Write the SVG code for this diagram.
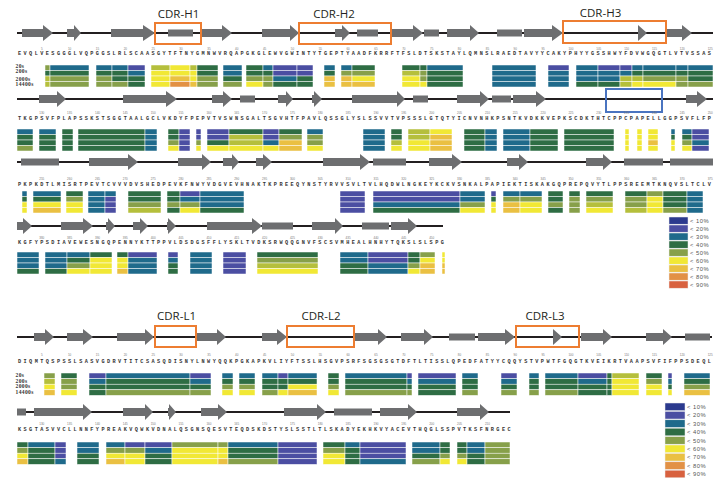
<svg xmlns="http://www.w3.org/2000/svg" width="719" height="492" viewBox="0 0 719 492">
<style>
.ln{stroke:#231f20;stroke-width:2.2}
.ss{fill:#6d6e70}
.cdr{fill:none;stroke:#ed7d31;stroke-width:2}
.cl{font-family:"Open Sans",sans-serif;font-size:11.5px;fill:#231f20;text-anchor:middle}
.seq{font-family:"Liberation Mono",monospace;font-size:5.2px;font-weight:bold;letter-spacing:2.45px;fill:#333}
.num{font-family:"Liberation Sans",sans-serif;font-size:3px;fill:#777;text-anchor:middle}
.lab{font-family:"Liberation Serif",serif;font-size:5.5px;font-weight:bold;letter-spacing:.4px;fill:#333}
.hm rect{stroke:#fff;stroke-width:.5}
.lg rect{stroke:#eee;stroke-width:.5}
.lt{font-family:"Liberation Sans",sans-serif;font-size:5.8px;fill:#555;letter-spacing:.5px}
.N{fill:#2b3a8e}.I{fill:#4b4ea2}.T{fill:#1f6a8b}.G{fill:#2e6d44}.O{fill:#87a04a}.L{fill:#b5bf3c}.Y{fill:#f1e835}.D{fill:#eac042}.R{fill:#e29145}.S{fill:#d8613f}
</style>

<!-- ================= HEAVY CHAIN ================= -->
<g id="heavy-chain">
<g id="h-structure">
<g transform="translate(0,33)">
<line class="ln" x1="17" y1="0" x2="713" y2="0"/>
<polygon class="ss" points="22,-4 43,-4 43,-8 53,0 43,8 43,4 22,4"/>
<polygon class="ss" points="67,-4 74,-4 74,-8 81,0 74,8 74,4 67,4"/>
<polygon class="ss" points="111,-4 143,-4 143,-8 155,0 143,8 143,4 111,4"/>
<rect class="ss" x="168" y="-3.5" width="25" height="7"/>
<polygon class="ss" points="202,-4 222,-4 222,-8 232,0 222,8 222,4 202,4"/>
<polygon class="ss" points="262,-4 290,-4 290,-8 299,0 290,8 290,4 262,4"/>
<polygon class="ss" points="335,-4 342,-4 342,-8 350,0 342,8 342,4 335,4"/>
<rect class="ss" x="357" y="-3.5" width="21" height="7"/>
<polygon class="ss" points="392,-4 413,-4 413,-8 423,0 413,8 413,4 392,4"/>
<rect class="ss" x="424" y="-3.5" width="15" height="7"/>
<polygon class="ss" points="447,-4 470,-4 470,-8 479,0 470,8 470,4 447,4"/>
<rect class="ss" x="497" y="-3.5" width="25" height="7"/>
<polygon class="ss" points="524,-4 552,-4 552,-8 563,0 552,8 552,4 524,4"/>
<polygon class="ss" points="638,-8 647,0 638,8"/>
<polygon class="ss" points="667,-4 682,-4 682,-8 692,0 682,8 682,4 667,4"/>
</g>
<g transform="translate(0,99)">
<line class="ln" x1="17" y1="0" x2="713" y2="0"/>
<polygon class="ss" points="39,-4 57,-4 57,-8 66,0 57,8 57,4 39,4"/>
<polygon class="ss" points="123,-4 166,-4 166,-8 177,0 166,8 166,4 123,4"/>
<polygon class="ss" points="212,-4 223,-4 223,-8 232,0 223,8 223,4 212,4"/>
<rect class="ss" x="240" y="-3.5" width="15" height="7"/>
<polygon class="ss" points="278,-4 286,-4 286,-8 293,0 286,8 286,4 278,4"/>
<polygon class="ss" points="312,-4 314,-4 314,-8 322,0 314,8 314,4 312,4"/>
<polygon class="ss" points="352,-4 397,-4 397,-8 405,0 397,8 397,4 352,4"/>
<rect class="ss" x="413" y="-3.5" width="15" height="7"/>
<polygon class="ss" points="457,-4 480,-4 480,-8 489,0 480,8 480,4 457,4"/>
<rect class="ss" x="492" y="-3.5" width="19" height="7"/>
<polygon class="ss" points="513,-4 536,-4 536,-8 546,0 536,8 536,4 513,4"/>
<polygon class="ss" points="686,-4 697,-4 697,-8 707,0 697,8 697,4 686,4"/>
</g>
<g transform="translate(0,162)">
<line class="ln" x1="17" y1="0" x2="713" y2="0"/>
<rect class="ss" x="21" y="-3.5" width="38" height="7"/>
<polygon class="ss" points="89,-4 128,-4 128,-8 138,0 128,8 128,4 89,4"/>
<polygon class="ss" points="178,-4 202,-4 202,-8 211,0 202,8 202,4 178,4"/>
<polygon class="ss" points="223,-4 232,-4 232,-8 239,0 232,8 232,4 223,4"/>
<polygon class="ss" points="256,-4 263,-4 263,-8 272,0 263,8 263,4 256,4"/>
<polygon class="ss" points="323,-4 360,-4 360,-8 370,0 360,8 360,4 323,4"/>
<rect class="ss" x="373" y="-3.5" width="33" height="7"/>
<polygon class="ss" points="429,-4 452,-4 452,-8 462,0 452,8 452,4 429,4"/>
<polygon class="ss" points="507,-4 519,-4 519,-8 528,0 519,8 519,4 507,4"/>
<polygon class="ss" points="586,-4 603,-4 603,-8 612,0 603,8 603,4 586,4"/>
<rect class="ss" x="624" y="-3.5" width="39" height="7"/>
<rect class="ss" x="670" y="-3.5" width="43" height="7"/>
</g>
<g transform="translate(0,226)">
<line class="ln" x1="17" y1="0" x2="443" y2="0"/>
<polygon class="ss" points="17,-4 23,-4 23,-8 32,0 23,8 23,4 17,4"/>
<polygon class="ss" points="61,-4 83,-4 83,-8 93,0 83,8 83,4 61,4"/>
<polygon class="ss" points="106,-4 108,-4 108,-8 115,0 108,8 108,4 106,4"/>
<polygon class="ss" points="133,-4 140,-4 140,-8 148,0 140,8 140,4 133,4"/>
<polygon class="ss" points="167,-4 168,-4 168,-8 176,0 168,8 168,4 167,4"/>
<polygon class="ss" points="207,-4 252,-4 252,-8 262,0 252,8 252,4 207,4"/>
<rect class="ss" x="262" y="-3.5" width="31" height="7"/>
<polygon class="ss" points="312,-4 335,-4 335,-8 343,0 335,8 335,4 312,4"/>
<rect class="ss" x="362" y="-3.5" width="27" height="7"/>
<polygon class="ss" points="391,-4 408,-4 408,-8 417,0 408,8 408,4 391,4"/>
</g>
</g>

<g id="h-cdr">
<rect class="cdr" x="155" y="23" width="46" height="21"/>
<rect class="cdr" x="299" y="23" width="92" height="21"/>
<rect class="cdr" x="563" y="21" width="103" height="22"/>
<rect x="606" y="89" width="56" height="23" fill="none" stroke="#4a74c0" stroke-width="2"/>
<text class="cl" x="178.5" y="17.5">CDR-H1</text>
<text class="cl" x="334" y="17.5">CDR-H2</text>
<text class="cl" x="600.5" y="17">CDR-H3</text>
</g>

<g id="h-seq">
<text class="num" y="49.5"><tspan x="41.8">5</tspan><tspan x="69.6">10</tspan><tspan x="97.5">15</tspan><tspan x="125.3">20</tspan><tspan x="153.2">25</tspan><tspan x="181">30</tspan><tspan x="208.9">35</tspan><tspan x="236.7">40</tspan><tspan x="264.6">45</tspan><tspan x="292.4">50</tspan><tspan x="320.3">55</tspan><tspan x="348.1">60</tspan><tspan x="376">65</tspan><tspan x="403.8">70</tspan><tspan x="431.7">75</tspan><tspan x="459.5">80</tspan><tspan x="487.4">85</tspan><tspan x="515.2">90</tspan><tspan x="543.1">95</tspan><tspan x="570.9">100</tspan><tspan x="598.8">105</tspan><tspan x="626.6">110</tspan><tspan x="654.5">115</tspan><tspan x="682.3">120</tspan><tspan x="710.2">125</tspan></text>
<text class="seq" x="17.94" y="55">EVQLVESGGGLVQPGGSLRLSCAASGYTFTNYGMNWVRQAPGKGLEWVGWINTYTGEPTYAADFKRRFTFSLDTSKSTAYLQMNSLRAEDTAVYYCAKYPHYYGSSHWYFDVWGQGTLVTVSSAS</text>
<text class="num" y="113.5"><tspan x="41.8">130</tspan><tspan x="69.6">135</tspan><tspan x="97.5">140</tspan><tspan x="125.3">145</tspan><tspan x="153.2">150</tspan><tspan x="181">155</tspan><tspan x="208.9">160</tspan><tspan x="236.7">165</tspan><tspan x="264.6">170</tspan><tspan x="292.4">175</tspan><tspan x="320.3">180</tspan><tspan x="348.1">185</tspan><tspan x="376">190</tspan><tspan x="403.8">195</tspan><tspan x="431.7">200</tspan><tspan x="459.5">205</tspan><tspan x="487.4">210</tspan><tspan x="515.2">215</tspan><tspan x="543.1">220</tspan><tspan x="570.9">225</tspan><tspan x="598.8">230</tspan><tspan x="626.6">235</tspan><tspan x="654.5">240</tspan><tspan x="682.3">245</tspan><tspan x="710.2">250</tspan></text>
<text class="seq" x="17.94" y="120">TKGPSVFPLAPSSKSTSGGTAALGCLVKDYFPEPVTVSWNSGALTSGVHTFPAVLQSSGLYSLSSVVTVPSSSLGTQTYICNVNHKPSNTKVDKKVEPKSCDKTHTCPPCPAPELLGGPSVFLFP</text>
<text class="num" y="180"><tspan x="41.8">255</tspan><tspan x="69.6">260</tspan><tspan x="97.5">265</tspan><tspan x="125.3">270</tspan><tspan x="153.2">275</tspan><tspan x="181">280</tspan><tspan x="208.9">285</tspan><tspan x="236.7">290</tspan><tspan x="264.6">295</tspan><tspan x="292.4">300</tspan><tspan x="320.3">305</tspan><tspan x="348.1">310</tspan><tspan x="376">315</tspan><tspan x="403.8">320</tspan><tspan x="431.7">325</tspan><tspan x="459.5">330</tspan><tspan x="487.4">335</tspan><tspan x="515.2">340</tspan><tspan x="543.1">345</tspan><tspan x="570.9">350</tspan><tspan x="598.8">355</tspan><tspan x="626.6">360</tspan><tspan x="654.5">365</tspan><tspan x="682.3">370</tspan><tspan x="710.2">375</tspan></text>
<text class="seq" x="17.94" y="186">PKPKDTLMISRTPEVTCVVVDVSHEDPEVKFNWYVDGVEVHNAKTKPREEQYNSTYRVVSVLTVLHQDWLNGKEYKCKVSNKALPAPIEKTISKAKGQPREPQVYTLPPSREEMTKNQVSLTCLV</text>
<text class="num" y="238.5"><tspan x="41.8">380</tspan><tspan x="69.6">385</tspan><tspan x="97.5">390</tspan><tspan x="125.3">395</tspan><tspan x="153.2">400</tspan><tspan x="181">405</tspan><tspan x="208.9">410</tspan><tspan x="236.7">415</tspan><tspan x="264.6">420</tspan><tspan x="292.4">425</tspan><tspan x="320.3">430</tspan><tspan x="348.1">435</tspan><tspan x="376">440</tspan><tspan x="403.8">445</tspan><tspan x="431.7">450</tspan></text>
<text class="seq" x="17.94" y="244">KGFYPSDIAVEWESNGQPENNYKTTPPVLDSDGSFFLYSKLTVDKSRWQQGNVFSCSVMHEALHNHYTQKSLSLSPG</text>
</g>

<g id="h-labels">
<text class="lab" x="15.5" y="67.7">20s</text>
<text class="lab" x="15.5" y="73.3">200s</text>
<text class="lab" x="15.5" y="80.5">2000s</text>
<text class="lab" x="15.5" y="85.9">14400s</text>
</g>

<g id="h-heat-1" class="hm" transform="translate(0,65)">
<rect class="O" x="45" width="5" height="5.5"/><rect class="G" x="45" y="5.5" width="5" height="5.5"/><rect class="L" x="45" y="11" width="5" height="5.5"/><rect class="L" x="45" y="16.5" width="5" height="5.5"/>
<rect class="T" x="50" width="39" height="5.5"/><rect class="G" x="50" y="5.5" width="39" height="5.5"/><rect class="O" x="50" y="11" width="39" height="5.5"/><rect class="O" x="50" y="16.5" width="39" height="5.5"/>
<rect class="T" x="96" width="16" height="5.5"/><rect class="G" x="96" y="5.5" width="16" height="5.5"/><rect class="O" x="96" y="11" width="16" height="5.5"/><rect class="O" x="96" y="16.5" width="16" height="5.5"/>
<rect class="T" x="112" width="16" height="5.5"/><rect class="G" x="112" y="5.5" width="16" height="5.5"/><rect class="G" x="112" y="11" width="16" height="5.5"/><rect class="O" x="112" y="16.5" width="16" height="5.5"/>
<rect class="I" x="128" width="17" height="5.5"/><rect class="T" x="128" y="5.5" width="17" height="5.5"/><rect class="G" x="128" y="11" width="17" height="5.5"/><rect class="G" x="128" y="16.5" width="17" height="5.5"/>
<rect class="L" x="151" width="19" height="5.5"/><rect class="Y" x="151" y="5.5" width="19" height="5.5"/><rect class="Y" x="151" y="11" width="19" height="5.5"/><rect class="Y" x="151" y="16.5" width="19" height="5.5"/>
<rect class="Y" x="170" width="20" height="5.5"/><rect class="Y" x="170" y="5.5" width="20" height="5.5"/><rect class="D" x="170" y="11" width="20" height="5.5"/><rect class="R" x="170" y="16.5" width="20" height="5.5"/>
<rect class="L" x="190" width="7" height="5.5"/><rect class="Y" x="190" y="5.5" width="7" height="5.5"/><rect class="Y" x="190" y="11" width="7" height="5.5"/><rect class="D" x="190" y="16.5" width="7" height="5.5"/>
<rect class="G" x="197" width="21" height="5.5"/><rect class="G" x="197" y="5.5" width="21" height="5.5"/><rect class="O" x="197" y="11" width="21" height="5.5"/><rect class="O" x="197" y="16.5" width="21" height="5.5"/>
<rect class="T" x="223" width="19" height="5.5"/><rect class="T" x="223" y="5.5" width="19" height="5.5"/><rect class="G" x="223" y="11" width="19" height="5.5"/><rect class="O" x="223" y="16.5" width="19" height="5.5"/>
<rect class="G" x="246" width="17" height="5.5"/><rect class="G" x="246" y="5.5" width="17" height="5.5"/><rect class="O" x="246" y="11" width="17" height="5.5"/><rect class="Y" x="246" y="16.5" width="17" height="5.5"/>
<rect class="T" x="263" width="10" height="5.5"/><rect class="G" x="263" y="5.5" width="10" height="5.5"/><rect class="O" x="263" y="11" width="10" height="5.5"/><rect class="O" x="263" y="16.5" width="10" height="5.5"/>
<rect class="I" x="273" width="24" height="5.5"/><rect class="I" x="273" y="5.5" width="24" height="5.5"/><rect class="T" x="273" y="11" width="24" height="5.5"/><rect class="G" x="273" y="16.5" width="24" height="5.5"/>
<rect class="I" x="297" width="16" height="5.5"/><rect class="I" x="297" y="5.5" width="16" height="5.5"/><rect class="G" x="297" y="11" width="16" height="5.5"/><rect class="G" x="297" y="16.5" width="16" height="5.5"/>
<rect class="T" x="324" width="11" height="5.5"/><rect class="G" x="324" y="5.5" width="11" height="5.5"/><rect class="D" x="324" y="11" width="11" height="5.5"/><rect class="D" x="324" y="16.5" width="11" height="5.5"/>
<rect class="T" x="341" width="11" height="5.5"/><rect class="O" x="341" y="5.5" width="11" height="5.5"/><rect class="D" x="341" y="11" width="11" height="5.5"/><rect class="D" x="341" y="16.5" width="11" height="5.5"/>
<rect class="G" x="352" width="23" height="5.5"/><rect class="O" x="352" y="5.5" width="23" height="5.5"/><rect class="Y" x="352" y="11" width="23" height="5.5"/><rect class="D" x="352" y="16.5" width="23" height="5.5"/>
<rect class="G" x="402" width="18" height="5.5"/><rect class="L" x="402" y="5.5" width="18" height="5.5"/><rect class="Y" x="402" y="11" width="18" height="5.5"/><rect class="Y" x="402" y="16.5" width="18" height="5.5"/>
<rect class="G" x="420" width="7" height="5.5"/><rect class="O" x="420" y="5.5" width="7" height="5.5"/><rect class="O" x="420" y="11" width="7" height="5.5"/><rect class="Y" x="420" y="16.5" width="7" height="5.5"/>
<rect class="T" x="427" width="36" height="5.5"/><rect class="G" x="427" y="5.5" width="36" height="5.5"/><rect class="G" x="427" y="11" width="36" height="5.5"/><rect class="G" x="427" y="16.5" width="36" height="5.5"/>
<rect class="T" x="492" width="44" height="5.5"/><rect class="T" x="492" y="5.5" width="44" height="5.5"/><rect class="T" x="492" y="11" width="44" height="5.5"/><rect class="T" x="492" y="16.5" width="44" height="5.5"/>
<rect class="I" x="548" width="21" height="5.5"/><rect class="T" x="548" y="5.5" width="21" height="5.5"/><rect class="T" x="548" y="11" width="21" height="5.5"/><rect class="T" x="548" y="16.5" width="21" height="5.5"/>
<rect class="T" x="576" width="22" height="5.5"/><rect class="T" x="576" y="5.5" width="22" height="5.5"/><rect class="T" x="576" y="11" width="22" height="5.5"/><rect class="G" x="576" y="16.5" width="22" height="5.5"/>
<rect class="I" x="598" width="22" height="5.5"/><rect class="T" x="598" y="5.5" width="22" height="5.5"/><rect class="T" x="598" y="11" width="22" height="5.5"/><rect class="G" x="598" y="16.5" width="22" height="5.5"/>
<rect class="I" x="620" width="12" height="5.5"/><rect class="T" x="620" y="5.5" width="12" height="5.5"/><rect class="L" x="620" y="11" width="12" height="5.5"/><rect class="L" x="620" y="16.5" width="12" height="5.5"/>
<rect class="T" x="632" width="11" height="5.5"/><rect class="G" x="632" y="5.5" width="11" height="5.5"/><rect class="L" x="632" y="11" width="11" height="5.5"/><rect class="Y" x="632" y="16.5" width="11" height="5.5"/>
<rect class="T" x="643" width="33" height="5.5"/><rect class="G" x="643" y="5.5" width="33" height="5.5"/><rect class="O" x="643" y="11" width="33" height="5.5"/><rect class="Y" x="643" y="16.5" width="33" height="5.5"/>
<rect class="T" x="676" width="12" height="5.5"/><rect class="G" x="676" y="5.5" width="12" height="5.5"/><rect class="O" x="676" y="11" width="12" height="5.5"/><rect class="O" x="676" y="16.5" width="12" height="5.5"/>
<rect class="T" x="688" width="25" height="5.5"/><rect class="G" x="688" y="5.5" width="25" height="5.5"/><rect class="G" x="688" y="11" width="25" height="5.5"/><rect class="O" x="688" y="16.5" width="25" height="5.5"/>
</g>

<g id="h-heat-2" class="hm" transform="translate(0,129)">
<rect class="T" x="17" width="16" height="5.5"/><rect class="G" x="17" y="5.5" width="16" height="5.5"/><rect class="G" x="17" y="11" width="16" height="5.5"/><rect class="O" x="17" y="16.5" width="16" height="5.5"/>
<rect class="T" x="39" width="17" height="5.5"/><rect class="G" x="39" y="5.5" width="17" height="5.5"/><rect class="G" x="39" y="11" width="17" height="5.5"/><rect class="G" x="39" y="16.5" width="17" height="5.5"/>
<rect class="G" x="62" width="11" height="5.5"/><rect class="G" x="62" y="5.5" width="11" height="5.5"/><rect class="G" x="62" y="11" width="11" height="5.5"/><rect class="G" x="62" y="16.5" width="11" height="5.5"/>
<rect class="G" x="78" width="67" height="5.5"/><rect class="G" x="78" y="5.5" width="67" height="5.5"/><rect class="G" x="78" y="11" width="67" height="5.5"/><rect class="G" x="78" y="16.5" width="67" height="5.5"/>
<rect class="T" x="145" width="12" height="5.5"/><rect class="T" x="145" y="5.5" width="12" height="5.5"/><rect class="T" x="145" y="11" width="12" height="5.5"/><rect class="T" x="145" y="16.5" width="12" height="5.5"/>
<rect class="G" x="168" width="11" height="5.5"/><rect class="G" x="168" y="5.5" width="11" height="5.5"/><rect class="O" x="168" y="11" width="11" height="5.5"/><rect class="Y" x="168" y="16.5" width="11" height="5.5"/>
<rect class="I" x="179" width="11" height="5.5"/><rect class="I" x="179" y="5.5" width="11" height="5.5"/><rect class="I" x="179" y="11" width="11" height="5.5"/><rect class="I" x="179" y="16.5" width="11" height="5.5"/>
<rect class="I" x="196" width="5" height="5.5"/><rect class="I" x="196" y="5.5" width="5" height="5.5"/><rect class="O" x="196" y="11" width="5" height="5.5"/><rect class="Y" x="196" y="16.5" width="5" height="5.5"/>
<rect class="I" x="207" width="22" height="5.5"/><rect class="I" x="207" y="5.5" width="22" height="5.5"/><rect class="G" x="207" y="11" width="22" height="5.5"/><rect class="Y" x="207" y="16.5" width="22" height="5.5"/>
<rect class="G" x="229" width="34" height="5.5"/><rect class="L" x="229" y="5.5" width="34" height="5.5"/><rect class="L" x="229" y="11" width="34" height="5.5"/><rect class="Y" x="229" y="16.5" width="34" height="5.5"/>
<rect class="I" x="263" width="16" height="5.5"/><rect class="I" x="263" y="5.5" width="16" height="5.5"/><rect class="T" x="263" y="11" width="16" height="5.5"/><rect class="Y" x="263" y="16.5" width="16" height="5.5"/>
<rect class="G" x="279" width="23" height="5.5"/><rect class="O" x="279" y="5.5" width="23" height="5.5"/><rect class="D" x="279" y="11" width="23" height="5.5"/><rect class="D" x="279" y="16.5" width="23" height="5.5"/>
<rect class="T" x="307" width="16" height="5.5"/><rect class="O" x="307" y="5.5" width="16" height="5.5"/><rect class="O" x="307" y="11" width="16" height="5.5"/><rect class="Y" x="307" y="16.5" width="16" height="5.5"/>
<rect class="T" x="363" width="22" height="5.5"/><rect class="T" x="363" y="5.5" width="22" height="5.5"/><rect class="T" x="363" y="11" width="22" height="5.5"/><rect class="T" x="363" y="16.5" width="22" height="5.5"/>
<rect class="G" x="391" width="11" height="5.5"/><rect class="G" x="391" y="5.5" width="11" height="5.5"/><rect class="L" x="391" y="11" width="11" height="5.5"/><rect class="Y" x="391" y="16.5" width="11" height="5.5"/>
<rect class="L" x="408" width="22" height="5.5"/><rect class="L" x="408" y="5.5" width="22" height="5.5"/><rect class="Y" x="408" y="11" width="22" height="5.5"/><rect class="Y" x="408" y="16.5" width="22" height="5.5"/>
<rect class="Y" x="430" width="22" height="5.5"/><rect class="D" x="430" y="5.5" width="22" height="5.5"/><rect class="D" x="430" y="11" width="22" height="5.5"/><rect class="D" x="430" y="16.5" width="22" height="5.5"/>
<rect class="G" x="464" width="21" height="5.5"/><rect class="G" x="464" y="5.5" width="21" height="5.5"/><rect class="G" x="464" y="11" width="21" height="5.5"/><rect class="G" x="464" y="16.5" width="21" height="5.5"/>
<rect class="T" x="485" width="12" height="5.5"/><rect class="T" x="485" y="5.5" width="12" height="5.5"/><rect class="T" x="485" y="11" width="12" height="5.5"/><rect class="T" x="485" y="16.5" width="12" height="5.5"/>
<rect class="T" x="503" width="27" height="5.5"/><rect class="T" x="503" y="5.5" width="27" height="5.5"/><rect class="T" x="503" y="11" width="27" height="5.5"/><rect class="T" x="503" y="16.5" width="27" height="5.5"/>
<rect class="G" x="530" width="28" height="5.5"/><rect class="G" x="530" y="5.5" width="28" height="5.5"/><rect class="G" x="530" y="11" width="28" height="5.5"/><rect class="G" x="530" y="16.5" width="28" height="5.5"/>
<rect class="G" x="564" width="50" height="5.5"/><rect class="G" x="564" y="5.5" width="50" height="5.5"/><rect class="G" x="564" y="11" width="50" height="5.5"/><rect class="G" x="564" y="16.5" width="50" height="5.5"/>
<rect class="Y" x="625" width="4" height="5.5"/><rect class="Y" x="625" y="5.5" width="4" height="5.5"/><rect class="Y" x="625" y="11" width="4" height="5.5"/><rect class="Y" x="625" y="16.5" width="4" height="5.5"/>
<rect class="Y" x="637" width="5" height="5.5"/><rect class="Y" x="637" y="5.5" width="5" height="5.5"/><rect class="Y" x="637" y="11" width="5" height="5.5"/><rect class="Y" x="637" y="16.5" width="5" height="5.5"/>
<rect class="Y" x="648" width="10" height="5.5"/><rect class="Y" x="648" y="5.5" width="10" height="5.5"/><rect class="D" x="648" y="11" width="10" height="5.5"/><rect class="Y" x="648" y="16.5" width="10" height="5.5"/>
<rect class="T" x="671" width="4" height="5.5"/><rect class="G" x="671" y="5.5" width="4" height="5.5"/><rect class="Y" x="671" y="11" width="4" height="5.5"/><rect class="Y" x="671" y="16.5" width="4" height="5.5"/>
<rect class="T" x="682" width="10" height="5.5"/><rect class="G" x="682" y="5.5" width="10" height="5.5"/><rect class="O" x="682" y="11" width="10" height="5.5"/><rect class="Y" x="682" y="16.5" width="10" height="5.5"/>
<rect class="I" x="692" width="17" height="5.5"/><rect class="I" x="692" y="5.5" width="17" height="5.5"/><rect class="T" x="692" y="11" width="17" height="5.5"/><rect class="I" x="692" y="16.5" width="17" height="5.5"/>
</g>

<g id="h-heat-3" class="hm" transform="translate(0,191)">
<rect class="T" x="22" width="5" height="5.5"/><rect class="G" x="22" y="5.5" width="5" height="5.5"/><rect class="Y" x="22" y="11" width="5" height="5.5"/><rect class="Y" x="22" y="16.5" width="5" height="5.5"/>
<rect class="T" x="33" width="28" height="5.5"/><rect class="G" x="33" y="5.5" width="28" height="5.5"/><rect class="Y" x="33" y="11" width="28" height="5.5"/><rect class="D" x="33" y="16.5" width="28" height="5.5"/>
<rect class="G" x="66" width="17" height="5.5"/><rect class="O" x="66" y="5.5" width="17" height="5.5"/><rect class="Y" x="66" y="11" width="17" height="5.5"/><rect class="Y" x="66" y="16.5" width="17" height="5.5"/>
<rect class="T" x="88" width="17" height="5.5"/><rect class="T" x="88" y="5.5" width="17" height="5.5"/><rect class="T" x="88" y="11" width="17" height="5.5"/><rect class="T" x="88" y="16.5" width="17" height="5.5"/>
<rect class="T" x="105" width="11" height="5.5"/><rect class="I" x="105" y="5.5" width="11" height="5.5"/><rect class="I" x="105" y="11" width="11" height="5.5"/><rect class="I" x="105" y="16.5" width="11" height="5.5"/>
<rect class="G" x="128" width="33" height="5.5"/><rect class="G" x="128" y="5.5" width="33" height="5.5"/><rect class="O" x="128" y="11" width="33" height="5.5"/><rect class="L" x="128" y="16.5" width="33" height="5.5"/>
<rect class="G" x="167" width="13" height="5.5"/><rect class="G" x="167" y="5.5" width="13" height="5.5"/><rect class="O" x="167" y="11" width="13" height="5.5"/><rect class="G" x="167" y="16.5" width="13" height="5.5"/>
<rect class="I" x="180" width="20" height="5.5"/><rect class="T" x="180" y="5.5" width="20" height="5.5"/><rect class="O" x="180" y="11" width="20" height="5.5"/><rect class="Y" x="180" y="16.5" width="20" height="5.5"/>
<rect class="T" x="200" width="44" height="5.5"/><rect class="T" x="200" y="5.5" width="44" height="5.5"/><rect class="T" x="200" y="11" width="44" height="5.5"/><rect class="G" x="200" y="16.5" width="44" height="5.5"/>
<rect class="I" x="340" width="25" height="5.5"/><rect class="I" x="340" y="5.5" width="25" height="5.5"/><rect class="I" x="340" y="11" width="25" height="5.5"/><rect class="I" x="340" y="16.5" width="25" height="5.5"/>
<rect class="I" x="373" width="87" height="5.5"/><rect class="I" x="373" y="5.5" width="87" height="5.5"/><rect class="T" x="373" y="11" width="87" height="5.5"/><rect class="G" x="373" y="16.5" width="87" height="5.5"/>
<rect class="T" x="460" width="25" height="5.5"/><rect class="T" x="460" y="5.5" width="25" height="5.5"/><rect class="O" x="460" y="11" width="25" height="5.5"/><rect class="Y" x="460" y="16.5" width="25" height="5.5"/>
<rect class="I" x="491" width="5" height="5.5"/><rect class="G" x="491" y="5.5" width="5" height="5.5"/><rect class="Y" x="491" y="11" width="5" height="5.5"/><rect class="Y" x="491" y="16.5" width="5" height="5.5"/>
<rect class="T" x="503" width="17" height="5.5"/><rect class="O" x="503" y="5.5" width="17" height="5.5"/><rect class="D" x="503" y="11" width="17" height="5.5"/><rect class="D" x="503" y="16.5" width="17" height="5.5"/>
<rect class="T" x="520" width="22" height="5.5"/><rect class="O" x="520" y="5.5" width="22" height="5.5"/><rect class="Y" x="520" y="11" width="22" height="5.5"/><rect class="Y" x="520" y="16.5" width="22" height="5.5"/>
<rect class="G" x="548" width="15" height="5.5"/><rect class="G" x="548" y="5.5" width="15" height="5.5"/><rect class="O" x="548" y="11" width="15" height="5.5"/><rect class="G" x="548" y="16.5" width="15" height="5.5"/>
<rect class="G" x="569" width="11" height="5.5"/><rect class="O" x="569" y="5.5" width="11" height="5.5"/><rect class="O" x="569" y="11" width="11" height="5.5"/><rect class="O" x="569" y="16.5" width="11" height="5.5"/>
<rect class="G" x="586" width="27" height="5.5"/><rect class="O" x="586" y="5.5" width="27" height="5.5"/><rect class="L" x="586" y="11" width="27" height="5.5"/><rect class="Y" x="586" y="16.5" width="27" height="5.5"/>
<rect class="G" x="625" width="22" height="5.5"/><rect class="O" x="625" y="5.5" width="22" height="5.5"/><rect class="O" x="625" y="11" width="22" height="5.5"/><rect class="L" x="625" y="16.5" width="22" height="5.5"/>
<rect class="O" x="647" width="16" height="5.5"/><rect class="Y" x="647" y="5.5" width="16" height="5.5"/><rect class="Y" x="647" y="11" width="16" height="5.5"/><rect class="Y" x="647" y="16.5" width="16" height="5.5"/>
<rect class="G" x="663" width="24" height="5.5"/><rect class="G" x="663" y="5.5" width="24" height="5.5"/><rect class="G" x="663" y="11" width="24" height="5.5"/><rect class="O" x="663" y="16.5" width="24" height="5.5"/>
<rect class="T" x="687" width="16" height="5.5"/><rect class="T" x="687" y="5.5" width="16" height="5.5"/><rect class="T" x="687" y="11" width="16" height="5.5"/><rect class="T" x="687" y="16.5" width="16" height="5.5"/>
</g>

<g id="h-heat-4" class="hm" transform="translate(0,252)">
<rect class="T" x="17" width="22" height="5.5"/><rect class="T" x="17" y="5.5" width="22" height="5.5"/><rect class="T" x="17" y="11" width="22" height="5.5"/><rect class="G" x="17" y="16.5" width="22" height="5.5"/>
<rect class="T" x="45" width="22" height="5.5"/><rect class="T" x="45" y="5.5" width="22" height="5.5"/><rect class="T" x="45" y="11" width="22" height="5.5"/><rect class="G" x="45" y="16.5" width="22" height="5.5"/>
<rect class="T" x="67" width="23" height="5.5"/><rect class="G" x="67" y="5.5" width="23" height="5.5"/><rect class="O" x="67" y="11" width="23" height="5.5"/><rect class="Y" x="67" y="16.5" width="23" height="5.5"/>
<rect class="G" x="90" width="22" height="5.5"/><rect class="Y" x="90" y="5.5" width="22" height="5.5"/><rect class="Y" x="90" y="11" width="22" height="5.5"/><rect class="Y" x="90" y="16.5" width="22" height="5.5"/>
<rect class="G" x="117" width="11" height="5.5"/><rect class="Y" x="117" y="5.5" width="11" height="5.5"/><rect class="Y" x="117" y="11" width="11" height="5.5"/><rect class="D" x="117" y="16.5" width="11" height="5.5"/>
<rect class="I" x="128" width="29" height="5.5"/><rect class="T" x="128" y="5.5" width="29" height="5.5"/><rect class="T" x="128" y="11" width="29" height="5.5"/><rect class="T" x="128" y="16.5" width="29" height="5.5"/>
<rect class="I" x="168" width="10" height="5.5"/><rect class="T" x="168" y="5.5" width="10" height="5.5"/><rect class="G" x="168" y="11" width="10" height="5.5"/><rect class="G" x="168" y="16.5" width="10" height="5.5"/>
<rect class="T" x="190" width="22" height="5.5"/><rect class="T" x="190" y="5.5" width="22" height="5.5"/><rect class="T" x="190" y="11" width="22" height="5.5"/><rect class="T" x="190" y="16.5" width="22" height="5.5"/>
<rect class="I" x="223" width="23" height="5.5"/><rect class="I" x="223" y="5.5" width="23" height="5.5"/><rect class="I" x="223" y="11" width="23" height="5.5"/><rect class="I" x="223" y="16.5" width="23" height="5.5"/>
<rect class="G" x="257" width="61" height="5.5"/><rect class="O" x="257" y="5.5" width="61" height="5.5"/><rect class="L" x="257" y="11" width="61" height="5.5"/><rect class="Y" x="257" y="16.5" width="61" height="5.5"/>
<rect class="T" x="340" width="28" height="5.5"/><rect class="T" x="340" y="5.5" width="28" height="5.5"/><rect class="G" x="340" y="11" width="28" height="5.5"/><rect class="G" x="340" y="16.5" width="28" height="5.5"/>
<rect class="I" x="368" width="40" height="5.5"/><rect class="I" x="368" y="5.5" width="40" height="5.5"/><rect class="T" x="368" y="11" width="40" height="5.5"/><rect class="T" x="368" y="16.5" width="40" height="5.5"/>
<rect class="G" x="408" width="12" height="5.5"/><rect class="G" x="408" y="5.5" width="12" height="5.5"/><rect class="O" x="408" y="11" width="12" height="5.5"/><rect class="Y" x="408" y="16.5" width="12" height="5.5"/>
<rect class="O" x="420" width="15" height="5.5"/><rect class="Y" x="420" y="5.5" width="15" height="5.5"/><rect class="D" x="420" y="11" width="15" height="5.5"/><rect class="D" x="420" y="16.5" width="15" height="5.5"/>
<rect class="Y" x="442" width="3" height="5.5"/><rect class="Y" x="442" y="5.5" width="3" height="5.5"/><rect class="D" x="442" y="11" width="3" height="5.5"/><rect class="D" x="442" y="16.5" width="3" height="5.5"/>
</g>
</g>

<!-- ================= LIGHT CHAIN ================= -->
<g id="light-chain">
<g id="l-structure">
<g transform="translate(0,337)">
<line class="ln" x1="17" y1="0" x2="712" y2="0"/>
<polygon class="ss" points="34,-4 45,-4 45,-8 54,0 45,8 45,4 34,4"/>
<polygon class="ss" points="67,-4 83,-4 83,-8 93,0 83,8 83,4 67,4"/>
<polygon class="ss" points="117,-4 145,-4 145,-8 154,0 145,8 145,4 117,4"/>
<polygon class="ss" points="197,-4 217,-4 217,-8 226,0 217,8 217,4 197,4"/>
<polygon class="ss" points="262,-4 277,-4 277,-8 287,0 277,8 277,4 262,4"/>
<polygon class="ss" points="355,-4 378,-4 378,-8 387,0 378,8 378,4 355,4"/>
<polygon class="ss" points="401,-4 424,-4 424,-8 433,0 424,8 424,4 401,4"/>
<rect class="ss" x="449" y="-3.5" width="26" height="7"/>
<polygon class="ss" points="478,-4 505,-4 505,-8 515,0 505,8 505,4 478,4"/>
<polygon class="ss" points="553,-8 562,0 553,8"/>
<polygon class="ss" points="581,-4 603,-4 603,-8 612,0 603,8 603,4 581,4"/>
<polygon class="ss" points="646,-4 663,-4 663,-8 672,0 663,8 663,4 646,4"/>
<rect class="ss" x="685" y="-3.5" width="25" height="7"/>
</g>
<g transform="translate(0,412)">
<line class="ln" x1="17" y1="0" x2="510" y2="0"/>
<rect class="ss" x="17" y="-3.5" width="9" height="7"/>
<polygon class="ss" points="34,-4 83,-4 83,-8 92,0 83,8 83,4 34,4"/>
<polygon class="ss" points="123,-4 145,-4 145,-8 153,0 145,8 145,4 123,4"/>
<polygon class="ss" points="168,-4 169,-4 169,-8 176,0 169,8 169,4 168,4"/>
<polygon class="ss" points="201,-4 218,-4 218,-8 227,0 218,8 218,4 201,4"/>
<polygon class="ss" points="284,-4 317,-4 317,-8 326,0 317,8 317,4 284,4"/>
<rect class="ss" x="334" y="-3.5" width="38" height="7"/>
<polygon class="ss" points="380,-4 408,-4 408,-8 417,0 408,8 408,4 380,4"/>
<polygon class="ss" points="457,-4 480,-4 480,-8 489,0 480,8 480,4 457,4"/>
</g>
</g>

<g id="l-cdr">
<rect class="cdr" x="155" y="326" width="41" height="21"/>
<rect class="cdr" x="287" y="326" width="67" height="21"/>
<rect class="cdr" x="516" y="326" width="63" height="21"/>
<text class="cl" x="176.5" y="320">CDR-L1</text>
<text class="cl" x="321" y="320">CDR-L2</text>
<text class="cl" x="545" y="320">CDR-L3</text>
</g>

<g id="l-seq">
<text class="num" y="356"><tspan x="41.8">5</tspan><tspan x="69.6">10</tspan><tspan x="97.5">15</tspan><tspan x="125.3">20</tspan><tspan x="153.2">25</tspan><tspan x="181">30</tspan><tspan x="208.9">35</tspan><tspan x="236.7">40</tspan><tspan x="264.6">45</tspan><tspan x="292.4">50</tspan><tspan x="320.3">55</tspan><tspan x="348.1">60</tspan><tspan x="376">65</tspan><tspan x="403.8">70</tspan><tspan x="431.7">75</tspan><tspan x="459.5">80</tspan><tspan x="487.4">85</tspan><tspan x="515.2">90</tspan><tspan x="543.1">95</tspan><tspan x="570.9">100</tspan><tspan x="598.8">105</tspan><tspan x="626.6">110</tspan><tspan x="654.5">115</tspan><tspan x="682.3">120</tspan><tspan x="710.2">125</tspan></text>
<text class="seq" x="17.94" y="362.5">DIQMTQSPSSLSASVGDRVTITCSASQDISNYLNWYQQKPGKAPKVLIYFTSSLHSGVPSRFSGSGSGTDFTLTISSLQPEDFATYYCQQYSTVPWTFGQGTKVEIKRTVAAPSVFIFPPSDEQL</text>
<text class="num" y="425"><tspan x="41.8">130</tspan><tspan x="69.6">135</tspan><tspan x="97.5">140</tspan><tspan x="125.3">145</tspan><tspan x="153.2">150</tspan><tspan x="181">155</tspan><tspan x="208.9">160</tspan><tspan x="236.7">165</tspan><tspan x="264.6">170</tspan><tspan x="292.4">175</tspan><tspan x="320.3">180</tspan><tspan x="348.1">185</tspan><tspan x="376">190</tspan><tspan x="403.8">195</tspan><tspan x="431.7">200</tspan><tspan x="459.5">205</tspan><tspan x="487.4">210</tspan></text>
<text class="seq" x="17.94" y="431">KSGTASVVCLLNNFYPREAKVQWKVDNALQSGNSQESVTEQDSKDSTYSLSSTLTLSKADYEKHKVYACEVTHQGLSSPVTKSFNRGEC</text>
</g>

<g id="l-labels">
<text class="lab" x="15.5" y="377.3">20s</text>
<text class="lab" x="15.5" y="382.5">200s</text>
<text class="lab" x="15.5" y="388">2000s</text>
<text class="lab" x="15.5" y="393.5">14400s</text>
</g>

<g id="l-heat-1" class="hm" transform="translate(0,373)">
<rect class="O" x="44" width="11" height="5.6"/><rect class="L" x="44" y="5.6" width="11" height="5.6"/><rect class="Y" x="44" y="11.2" width="11" height="5.6"/><rect class="D" x="44" y="16.8" width="11" height="5.6"/>
<rect class="G" x="61" width="16" height="5.6"/><rect class="O" x="61" y="5.6" width="16" height="5.6"/><rect class="O" x="61" y="11.2" width="16" height="5.6"/><rect class="Y" x="61" y="16.8" width="16" height="5.6"/>
<rect class="I" x="89" width="17" height="5.6"/><rect class="T" x="89" y="5.6" width="17" height="5.6"/><rect class="G" x="89" y="11.2" width="17" height="5.6"/><rect class="G" x="89" y="16.8" width="17" height="5.6"/>
<rect class="T" x="106" width="84" height="5.6"/><rect class="G" x="106" y="5.6" width="84" height="5.6"/><rect class="G" x="106" y="11.2" width="84" height="5.6"/><rect class="O" x="106" y="16.8" width="84" height="5.6"/>
<rect class="I" x="190" width="21" height="5.6"/><rect class="T" x="190" y="5.6" width="21" height="5.6"/><rect class="G" x="190" y="11.2" width="21" height="5.6"/><rect class="O" x="190" y="16.8" width="21" height="5.6"/>
<rect class="T" x="222" width="11" height="5.6"/><rect class="G" x="222" y="5.6" width="11" height="5.6"/><rect class="O" x="222" y="11.2" width="11" height="5.6"/><rect class="Y" x="222" y="16.8" width="11" height="5.6"/>
<rect class="T" x="239" width="16" height="5.6"/><rect class="G" x="239" y="5.6" width="16" height="5.6"/><rect class="O" x="239" y="11.2" width="16" height="5.6"/><rect class="Y" x="239" y="16.8" width="16" height="5.6"/>
<rect class="T" x="262" width="16" height="5.6"/><rect class="G" x="262" y="5.6" width="16" height="5.6"/><rect class="G" x="262" y="11.2" width="16" height="5.6"/><rect class="O" x="262" y="16.8" width="16" height="5.6"/>
<rect class="I" x="278" width="10" height="5.6"/><rect class="G" x="278" y="5.6" width="10" height="5.6"/><rect class="G" x="278" y="11.2" width="10" height="5.6"/><rect class="Y" x="278" y="16.8" width="10" height="5.6"/>
<rect class="T" x="288" width="29" height="5.6"/><rect class="G" x="288" y="5.6" width="29" height="5.6"/><rect class="Y" x="288" y="11.2" width="29" height="5.6"/><rect class="D" x="288" y="16.8" width="29" height="5.6"/>
<rect class="G" x="328" width="11" height="5.6"/><rect class="G" x="328" y="5.6" width="11" height="5.6"/><rect class="O" x="328" y="11.2" width="11" height="5.6"/><rect class="Y" x="328" y="16.8" width="11" height="5.6"/>
<rect class="T" x="345" width="62" height="5.6"/><rect class="G" x="345" y="5.6" width="62" height="5.6"/><rect class="G" x="345" y="11.2" width="62" height="5.6"/><rect class="O" x="345" y="16.8" width="62" height="5.6"/>
<rect class="I" x="407" width="5" height="5.6"/><rect class="T" x="407" y="5.6" width="5" height="5.6"/><rect class="G" x="407" y="11.2" width="5" height="5.6"/><rect class="O" x="407" y="16.8" width="5" height="5.6"/>
<rect class="I" x="418" width="38" height="5.6"/><rect class="T" x="418" y="5.6" width="38" height="5.6"/><rect class="G" x="418" y="11.2" width="38" height="5.6"/><rect class="G" x="418" y="16.8" width="38" height="5.6"/>
<rect class="T" x="462" width="16" height="5.6"/><rect class="G" x="462" y="5.6" width="16" height="5.6"/><rect class="G" x="462" y="11.2" width="16" height="5.6"/><rect class="O" x="462" y="16.8" width="16" height="5.6"/>
<rect class="I" x="501" width="16" height="5.6"/><rect class="T" x="501" y="5.6" width="16" height="5.6"/><rect class="G" x="501" y="11.2" width="16" height="5.6"/><rect class="O" x="501" y="16.8" width="16" height="5.6"/>
<rect class="T" x="529" width="10" height="5.6"/><rect class="G" x="529" y="5.6" width="10" height="5.6"/><rect class="G" x="529" y="11.2" width="10" height="5.6"/><rect class="O" x="529" y="16.8" width="10" height="5.6"/>
<rect class="T" x="545" width="33" height="5.6"/><rect class="G" x="545" y="5.6" width="33" height="5.6"/><rect class="G" x="545" y="11.2" width="33" height="5.6"/><rect class="O" x="545" y="16.8" width="33" height="5.6"/>
<rect class="I" x="578" width="29" height="5.6"/><rect class="T" x="578" y="5.6" width="29" height="5.6"/><rect class="G" x="578" y="11.2" width="29" height="5.6"/><rect class="G" x="578" y="16.8" width="29" height="5.6"/>
<rect class="G" x="607" width="5" height="5.6"/><rect class="G" x="607" y="5.6" width="5" height="5.6"/><rect class="G" x="607" y="11.2" width="5" height="5.6"/><rect class="G" x="607" y="16.8" width="5" height="5.6"/>
<rect class="L" x="612" width="27" height="5.6"/><rect class="Y" x="612" y="5.6" width="27" height="5.6"/><rect class="Y" x="612" y="11.2" width="27" height="5.6"/><rect class="Y" x="612" y="16.8" width="27" height="5.6"/>
<rect class="G" x="646" width="16" height="5.6"/><rect class="O" x="646" y="5.6" width="16" height="5.6"/><rect class="Y" x="646" y="11.2" width="16" height="5.6"/><rect class="Y" x="646" y="16.8" width="16" height="5.6"/>
<rect class="I" x="668" width="4" height="5.6"/><rect class="T" x="668" y="5.6" width="4" height="5.6"/><rect class="G" x="668" y="11.2" width="4" height="5.6"/><rect class="Y" x="668" y="16.8" width="4" height="5.6"/>
<rect class="T" x="684" width="26" height="5.6"/><rect class="G" x="684" y="5.6" width="26" height="5.6"/><rect class="O" x="684" y="11.2" width="26" height="5.6"/><rect class="D" x="684" y="16.8" width="26" height="5.6"/>
</g>

<g id="l-heat-2" class="hm" transform="translate(0,442)">
<rect class="G" x="17" width="11" height="5.6"/><rect class="O" x="17" y="5.6" width="11" height="5.6"/><rect class="Y" x="17" y="11.2" width="11" height="5.6"/><rect class="D" x="17" y="16.8" width="11" height="5.6"/>
<rect class="T" x="28" width="27" height="5.6"/><rect class="G" x="28" y="5.6" width="27" height="5.6"/><rect class="G" x="28" y="11.2" width="27" height="5.6"/><rect class="G" x="28" y="16.8" width="27" height="5.6"/>
<rect class="I" x="55" width="11" height="5.6"/><rect class="I" x="55" y="5.6" width="11" height="5.6"/><rect class="I" x="55" y="11.2" width="11" height="5.6"/><rect class="T" x="55" y="16.8" width="11" height="5.6"/>
<rect class="T" x="77" width="22" height="5.6"/><rect class="T" x="77" y="5.6" width="22" height="5.6"/><rect class="G" x="77" y="11.2" width="22" height="5.6"/><rect class="G" x="77" y="16.8" width="22" height="5.6"/>
<rect class="T" x="106" width="19" height="5.6"/><rect class="O" x="106" y="5.6" width="19" height="5.6"/><rect class="Y" x="106" y="11.2" width="19" height="5.6"/><rect class="D" x="106" y="16.8" width="19" height="5.6"/>
<rect class="I" x="125" width="20" height="5.6"/><rect class="O" x="125" y="5.6" width="20" height="5.6"/><rect class="Y" x="125" y="11.2" width="20" height="5.6"/><rect class="Y" x="125" y="16.8" width="20" height="5.6"/>
<rect class="I" x="145" width="27" height="5.6"/><rect class="T" x="145" y="5.6" width="27" height="5.6"/><rect class="G" x="145" y="11.2" width="27" height="5.6"/><rect class="G" x="145" y="16.8" width="27" height="5.6"/>
<rect class="O" x="172" width="46" height="5.6"/><rect class="Y" x="172" y="5.6" width="46" height="5.6"/><rect class="Y" x="172" y="11.2" width="46" height="5.6"/><rect class="Y" x="172" y="16.8" width="46" height="5.6"/>
<rect class="O" x="218" width="10" height="5.6"/><rect class="Y" x="218" y="5.6" width="10" height="5.6"/><rect class="Y" x="218" y="11.2" width="10" height="5.6"/><rect class="D" x="218" y="16.8" width="10" height="5.6"/>
<rect class="T" x="228" width="50" height="5.6"/><rect class="G" x="228" y="5.6" width="50" height="5.6"/><rect class="G" x="228" y="11.2" width="50" height="5.6"/><rect class="O" x="228" y="16.8" width="50" height="5.6"/>
<rect class="I" x="278" width="39" height="5.6"/><rect class="I" x="278" y="5.6" width="39" height="5.6"/><rect class="I" x="278" y="11.2" width="39" height="5.6"/><rect class="I" x="278" y="16.8" width="39" height="5.6"/>
<rect class="G" x="323" width="22" height="5.6"/><rect class="O" x="323" y="5.6" width="22" height="5.6"/><rect class="Y" x="323" y="11.2" width="22" height="5.6"/><rect class="Y" x="323" y="16.8" width="22" height="5.6"/>
<rect class="T" x="345" width="15" height="5.6"/><rect class="G" x="345" y="5.6" width="15" height="5.6"/><rect class="G" x="345" y="11.2" width="15" height="5.6"/><rect class="G" x="345" y="16.8" width="15" height="5.6"/>
<rect class="I" x="360" width="46" height="5.6"/><rect class="I" x="360" y="5.6" width="46" height="5.6"/><rect class="I" x="360" y="11.2" width="46" height="5.6"/><rect class="T" x="360" y="16.8" width="46" height="5.6"/>
<rect class="T" x="412" width="28" height="5.6"/><rect class="T" x="412" y="5.6" width="28" height="5.6"/><rect class="G" x="412" y="11.2" width="28" height="5.6"/><rect class="O" x="412" y="16.8" width="28" height="5.6"/>
<rect class="G" x="440" width="10" height="5.6"/><rect class="G" x="440" y="5.6" width="10" height="5.6"/><rect class="O" x="440" y="11.2" width="10" height="5.6"/><rect class="Y" x="440" y="16.8" width="10" height="5.6"/>
<rect class="G" x="457" width="10" height="5.6"/><rect class="G" x="457" y="5.6" width="10" height="5.6"/><rect class="O" x="457" y="11.2" width="10" height="5.6"/><rect class="Y" x="457" y="16.8" width="10" height="5.6"/>
<rect class="T" x="467" width="18" height="5.6"/><rect class="T" x="467" y="5.6" width="18" height="5.6"/><rect class="G" x="467" y="11.2" width="18" height="5.6"/><rect class="G" x="467" y="16.8" width="18" height="5.6"/>
<rect class="O" x="485" width="25" height="5.6"/><rect class="O" x="485" y="5.6" width="25" height="5.6"/><rect class="O" x="485" y="11.2" width="25" height="5.6"/><rect class="O" x="485" y="16.8" width="25" height="5.6"/>
</g>
</g>

<!-- ================= LEGENDS ================= -->
<g id="legend-heavy" class="lg">
<rect class="N" x="669" y="217" width="19" height="7.2"/>
<rect class="I" x="669" y="225" width="19" height="7.2"/>
<rect class="T" x="669" y="233" width="19" height="7.2"/>
<rect class="G" x="669" y="241" width="19" height="7.2"/>
<rect class="O" x="669" y="249" width="19" height="7.2"/>
<rect class="Y" x="669" y="257" width="19" height="7.2"/>
<rect class="D" x="669" y="265" width="19" height="7.2"/>
<rect class="R" x="669" y="273" width="19" height="7.2"/>
<rect class="S" x="669" y="281" width="19" height="7.2"/>
<text class="lt" x="690" y="222.8">&lt; 10%</text>
<text class="lt" x="690" y="230.8">&lt; 20%</text>
<text class="lt" x="690" y="238.8">&lt; 30%</text>
<text class="lt" x="690" y="246.8">&lt; 40%</text>
<text class="lt" x="690" y="254.8">&lt; 50%</text>
<text class="lt" x="690" y="262.8">&lt; 60%</text>
<text class="lt" x="690" y="270.8">&lt; 70%</text>
<text class="lt" x="690" y="278.8">&lt; 80%</text>
<text class="lt" x="690" y="286.8">&lt; 90%</text>
</g>

<g id="legend-light" class="lg">
<rect class="N" x="665" y="403" width="20" height="7.6"/>
<rect class="I" x="665" y="411.4" width="20" height="7.6"/>
<rect class="T" x="665" y="419.8" width="20" height="7.6"/>
<rect class="G" x="665" y="428.2" width="20" height="7.6"/>
<rect class="O" x="665" y="436.6" width="20" height="7.6"/>
<rect class="Y" x="665" y="445" width="20" height="7.6"/>
<rect class="D" x="665" y="453.4" width="20" height="7.6"/>
<rect class="R" x="665" y="461.8" width="20" height="7.6"/>
<rect class="S" x="665" y="470.2" width="20" height="7.6"/>
<text class="lt" x="687" y="409">&lt; 10%</text>
<text class="lt" x="687" y="417.4">&lt; 20%</text>
<text class="lt" x="687" y="425.8">&lt; 30%</text>
<text class="lt" x="687" y="434.2">&lt; 40%</text>
<text class="lt" x="687" y="442.6">&lt; 50%</text>
<text class="lt" x="687" y="451">&lt; 60%</text>
<text class="lt" x="687" y="459.4">&lt; 70%</text>
<text class="lt" x="687" y="467.8">&lt; 80%</text>
<text class="lt" x="687" y="476.2">&lt; 90%</text>
</g>
</svg>
